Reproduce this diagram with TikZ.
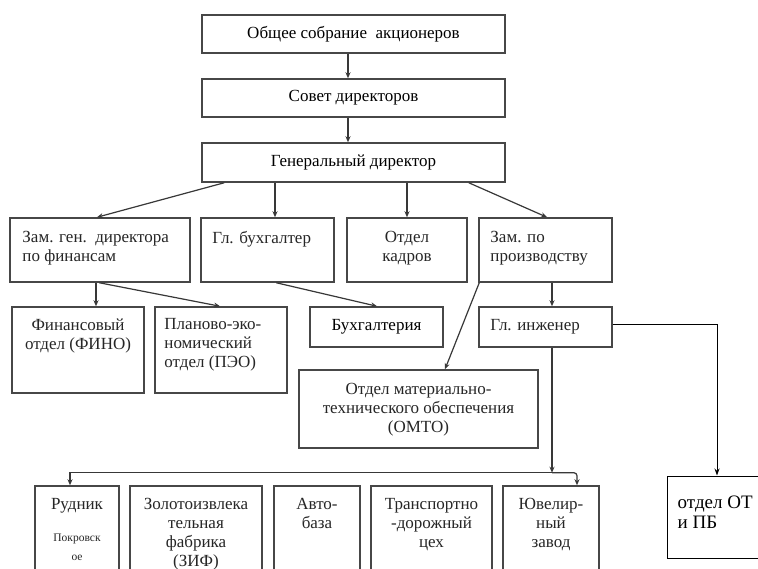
\documentclass[tikz,border=0pt]{standalone}
\usepackage{fontspec}
\setmainfont{Liberation Serif}
\usetikzlibrary{arrows.meta}
\newcommand\fs{\fontsize{17}{19}\selectfont}
\newcommand\fsm{\fontsize{11.5}{14}\selectfont}
\newcommand\fsot{\fontsize{19}{20}\selectfont}
\tikzset{
  bx/.style={draw=black!72, line width=1.5pt, inner sep=0pt, font=\fs},
  tl/.style={font=\fs, inner sep=0pt, align=left, anchor=north west, text=black!85},
  tc/.style={font=\fs, inner sep=0pt, align=center, anchor=north, text=black!85},
  arr/.style={draw=black!78, line width=1.2pt, -{Stealth[length=6pt,width=5pt]}},
  thin arr/.style={draw=black, line width=1pt, -{Stealth[length=7pt,width=5pt]}},
}
\begin{document}
\begin{tikzpicture}[x=1pt,y=-1pt]
\useasboundingbox (0,0) rectangle (758,569);
\fill[white] (0,0) rectangle (758,569);

% top chain
\node[bx, minimum width=303pt, minimum height=38pt] (sob) at (353.5,34) {Общее собрание\ \ акционеров};
\node[bx, minimum width=303pt, minimum height=38pt] (sov) at (353.5,98) {Совет директоров};
\node[bx, minimum width=303pt, minimum height=39pt] (gd) at (353.5,162.5) {Генеральный директор};

% row 2
\node[bx, minimum width=180pt, minimum height=64pt] (zf) at (100,250) {};
\node[bx, minimum width=133pt, minimum height=64pt] (gb) at (267.5,250) {};
\node[bx, minimum width=120pt, minimum height=64pt] (ok) at (407,250) {};
\node[bx, minimum width=133pt, minimum height=64pt] (zp) at (545.5,250) {};

% row 3
\node[bx, minimum width=132pt, minimum height=86pt] (fino) at (78,350) {};
\node[bx, minimum width=132pt, minimum height=86pt] (peo) at (221,350) {};
\node[bx, minimum width=133pt, minimum height=40pt] (buh) at (376.5,327) {Бухгалтерия};
\node[bx, minimum width=133pt, minimum height=40pt] (gi) at (545.5,327) {};
\node[bx, minimum width=239pt, minimum height=78pt] (omto) at (418.5,409) {};
\node[draw=black, line width=1pt, inner sep=0pt, minimum width=120pt, minimum height=82pt] (ot) at (727,517) {};

% bottom row
\node[bx, minimum width=84pt, minimum height=94pt] (rud) at (77,533) {};
\node[bx, minimum width=132pt, minimum height=94pt] (zif) at (196,533) {};
\node[bx, minimum width=86pt, minimum height=94pt] (avto) at (317,533) {};
\node[bx, minimum width=121pt, minimum height=94pt] (tdc) at (431.5,533) {};
\node[bx, minimum width=96pt, minimum height=94pt] (yuv) at (551,533) {};

% texts
\node[tl] (zfT) at ([xshift=13pt,yshift=-14pt]zf.north west) {Зам. ген.\ \ директора\\по финансам};
\node[tl] (gbT) at ([xshift=12pt,yshift=-14pt]gb.north west) {Гл. бухгалтер};
\node[tc] (okT) at ([yshift=-14pt]ok.north) {Отдел\\кадров};
\node[tl] (zpT) at ([xshift=12pt,yshift=-14pt]zp.north west) {Зам. по\\производству};
\node[tc] (finoT) at ([yshift=-12pt]fino.north) {Финансовый\\отдел (ФИНО)};
\node[tl] (peoT) at ([xshift=10pt,yshift=-12pt]peo.north west) {Планово-эко-\\номический\\отдел (ПЭО)};
\node[tl, anchor=west] (giT) at ([xshift=12pt]gi.west) {Гл. инженер};
\node[tc] (omtoT) at ([yshift=-14pt]omto.north) {Отдел материально-\\технического обеспечения\\(ОМТО)};
\node[tl, font=\fsot, text=black] (otT) at ([xshift=11pt,yshift=-20pt]ot.north west) {отдел ОТ\\и ПБ};

\node[tc] (rudT) at ([yshift=-13pt]rud.north) {Рудник\\[13pt]{\fsm Покровск}\\{\fsm ое}};
\node[tc] (zifT) at ([yshift=-13pt]zif.north) {Золотоизвлека\\тельная\\фабрика\\(ЗИФ)};
\node[tc] (avtoT) at ([yshift=-13pt]avto.north) {Авто-\\база};
\node[tc] (tdcT) at ([yshift=-13pt]tdc.north) {Транспортно\\-дорожный\\цех};
\node[tc] (yuvT) at ([yshift=-13pt]yuv.north) {Ювелир-\\ный\\завод};

% connectors
\draw[arr] ([xshift=-5.5pt]sob.south) -- ([xshift=-5.5pt]sov.north);
\draw[arr] ([xshift=-5.5pt]sov.south) -- ([xshift=-5.5pt]gd.north);

\draw[arr] ([xshift=23pt]gd.south west) -- ([xshift=-3pt]zf.north);
\draw[arr] ([xshift=7.5pt]gb.north |- gd.south) -- ([xshift=7.5pt]gb.north);
\draw[arr] (ok.north |- gd.south) -- (ok.north);
\draw[arr] ([xshift=-37pt]gd.south east) -- ([xshift=1.5pt]zp.north);

\draw[arr] ([xshift=18pt]fino.north |- zf.south) -- ([xshift=18pt]fino.north);
\draw[arr] ([xshift=90pt]zf.south west) -- ([xshift=-1pt]peo.north);
\draw[arr] ([xshift=76pt]gb.south west) -- ([xshift=0.5pt]buh.north);
\draw[arr] ([xshift=6.5pt]zp.south) -- ([xshift=6.5pt]gi.north);
\draw[arr] ([xshift=1pt]zp.south west) -- ([xshift=26.5pt]omto.north);

\draw[thin arr] ([yshift=2pt]gi.east) -| ([xshift=-10pt]ot.north);

\coordinate (bus) at ([xshift=6.5pt,yshift=-125pt]gi.south);
\draw[arr] ([xshift=6.5pt]gi.south) -- (bus);
\draw[arr, rounded corners=3pt] (bus) -| ([xshift=26pt]yuv.north);
\draw[arr] (bus) -| ([xshift=-7pt]rud.north);
\end{tikzpicture}
\end{document}
